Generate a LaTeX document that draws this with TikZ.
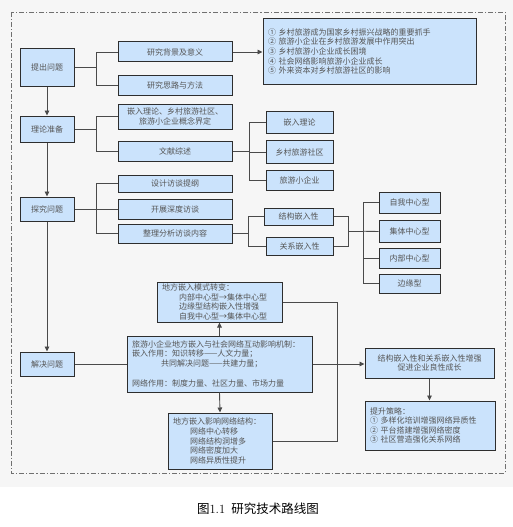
\documentclass[tikz,border=0pt]{standalone}
\usepackage{fontspec}
\usetikzlibrary{arrows.meta,calc}
\newfontfamily\cjk{Noto Sans CJK SC}
\definecolor{bgcol}{HTML}{F6F6F6}
\definecolor{boxfill}{HTML}{CBE3FC}
\definecolor{boxline}{HTML}{2E2E2E}
\definecolor{txtgray}{HTML}{555555}
\definecolor{linegray}{HTML}{4A4A4A}
\definecolor{framegray}{HTML}{707070}

\begin{document}
\begin{tikzpicture}[x=1pt,y=-1pt,
	box/.style={draw=boxline, fill=boxfill, line width=1pt, text=txtgray, inner sep=0pt, align=center, font=\cjk\fontsize{8}{9.6}\selectfont},
	lbox/.style={box, align=left, inner xsep=5pt, text width=#1},
	conn/.style={draw=linegray, line width=0.9pt},
	arr/.style={conn, -{Triangle[length=5pt,width=4.5pt]}}]
		%% background and page size
		\useasboundingbox (0,0) rectangle (513,527);
		\fill[bgcol] (0,0) rectangle (513,487);
		\draw[framegray, line width=0.8pt, dash pattern=on 5pt off 2pt on 1.2pt off 2pt] (11,12) rectangle (505,473);
		%% left column
		\node[box, minimum width=54pt, minimum height=37pt] (wt) at (47,67.5) {提出问题};
		\node[box, minimum width=54pt, minimum height=26pt] (ll) at (47,129) {理论准备};
		\node[box, minimum width=54pt, minimum height=24pt] (tj) at (47,209) {探究问题};
		\node[box, minimum width=54pt, minimum height=24pt] (jj) at (47,364) {解决问题};
		%% second column
		\node[box, minimum width=114pt, minimum height=20pt] (bj) at (175,52) {研究背景及意义};
		\node[box, minimum width=114pt, minimum height=20pt] (sl) at (175,85) {研究思路与方法};
		\node[box, minimum width=114pt, minimum height=25pt] (gn) at (175,116.5) {嵌入理论、乡村旅游社区、\\旅游小企业概念界定};
		\node[box, minimum width=114pt, minimum height=20pt] (wx) at (175,151) {文献综述};
		\node[box, minimum width=114pt, minimum height=17pt] (sj) at (175,183.5) {设计访谈提纲};
		\node[box, minimum width=114pt, minimum height=20pt] (kz) at (175,209) {开展深度访谈};
		\node[box, minimum width=114pt, minimum height=19pt] (zl) at (175,233.5) {整理分析访谈内容};
		%% research background list
		\node[lbox=203pt, minimum height=65pt] (yy) at (369.5,51.5) {① 乡村旅游成为国家乡村振兴战略的重要抓手\\② 旅游小企业在乡村旅游发展中作用突出\\③ 乡村旅游小企业成长困境\\④ 社会网络影响旅游小企业成长\\⑤ 外来资本对乡村旅游社区的影响};
		%% literature review
		\node[box, minimum width=67pt, minimum height=22pt] (qr) at (299.5,122) {嵌入理论};
		\node[box, minimum width=67pt, minimum height=23pt] (sq) at (299.5,152) {乡村旅游社区};
		\node[box, minimum width=67pt, minimum height=20pt] (qy) at (299.5,180.5) {旅游小企业};
		%% embeddedness and network types
		\node[box, minimum width=69pt, minimum height=17pt] (jg) at (298.5,216.5) {结构嵌入性};
		\node[box, minimum width=67pt, minimum height=18pt] (gx) at (299.5,246) {关系嵌入性};
		\node[box, minimum width=61pt, minimum height=21pt] (zw) at (409.5,202.5) {自我中心型};
		\node[box, minimum width=61pt, minimum height=22pt] (jt) at (409.5,231.5) {集体中心型};
		\node[box, minimum width=61pt, minimum height=20pt] (nb) at (409.5,258) {内部中心型};
		\node[box, minimum width=61pt, minimum height=19pt] (by) at (409.5,283.5) {边缘型};
		%% mechanism part
		\node[lbox=115pt, minimum height=40pt] (zb) at (219.5,302) {地方嵌入模式转变：\\\hspace*{17pt}内部中心型→集体中心型\\\hspace*{17pt}边缘型结构嵌入性增强\\\hspace*{17pt}自我中心型→集体中心型};
		\node[lbox=175pt, minimum height=56pt] (jz) at (219.5,364) {旅游小企业地方嵌入与社会网络互动影响机制：\\嵌入作用：知识转移——人文力量；\\\hspace*{29pt}共同解决问题——共建力量；\\[11pt]网络作用：制度力量、社区力量、市场力量};
		\node[lbox=94pt, minimum height=56pt] (wj) at (220,441) {地方嵌入影响网络结构：\\\hspace*{17pt}网络中心转移\\\hspace*{17pt}网络结构洞增多\\\hspace*{17pt}网络密度加大\\\hspace*{17pt}网络异质性提升};
		\node[box, minimum width=129pt, minimum height=30pt] (zz) at (429.5,363) {结构嵌入性和关系嵌入性增强\\促进企业良性成长};
		\node[lbox=120pt, minimum height=49pt] (cl) at (430,425.5) {提升策略：\\① 多样化培训增强网络异质性\\② 平台搭建增强网络密度\\③ 社区营造强化关系网络};
		%% main flow
		\draw[arr] (wt.south) -- (ll.north);
		\draw[arr] (ll.south) -- (tj.north);
		\draw[arr] (tj.south) -- (jj.north);
		%% brackets
		\draw[conn] (wt.east) -- ++(22,0) coordinate (wtj);
		\draw[conn] (bj.west) -| (wtj) |- (sl.west);
		\draw[arr] (bj.east) -- (bj.east -| yy.west);
		\draw[conn] (ll.east) -- ++(22,0) coordinate (llj);
		\draw[conn] (gn.west) -| (llj) |- (wx.west);
		\draw[conn] (wx.east) -- ++(17,0) coordinate (wxj);
		\draw[conn] (qr.west) -| (wxj) |- (qy.west);
		\draw[conn] (wxj) |- (sq.west);
		\draw[conn] (tj.east) -- ++(22,0) coordinate (tjj);
		\draw[conn] (sj.west) -| (tjj) |- (zl.west);
		\draw[conn] (tjj) -- (kz.west);
		\draw[conn] (zl.east) -- ++(16,0) coordinate (zlj);
		\draw[conn] (jg.west) -| (zlj) |- (gx.west);
		\coordinate (qrj) at ($(jg.east)!.5!(gx.east)+(15,0)$);
		\draw[conn] (jg.east) -| (qrj) |- (gx.east);
		\draw[conn] (qrj) -- ++(15,0) coordinate (lxj);
		\draw[conn] (zw.west) -| (lxj) |- (by.west);
		\draw[conn] (lxj) |- (nb.west);
		\draw[conn] (lxj) -- (jt.west);
		%% solving part
		\draw[conn] (jj.east) -- (jz.west);
		\draw[arr] (jz.north) -- (zb.south);
		\draw[arr] (jz.south) -- (wj.north);
		\draw[conn] (zb.east) -- ++(55,0) coordinate (zbj) |- (wj.east);
		\draw[arr] (jz.east) -- (jz.east -| zz.west);
		\draw[arr] (zz.south) -- (zz.south |- cl.north);
		%% caption
		\node[font=\fontsize{12.5}{14}\selectfont] (cap) at (258,509) {{\cjk 图}1.1\hspace{0.5em}{\cjk 研究技术路线图}};
\end{tikzpicture}
\end{document}
